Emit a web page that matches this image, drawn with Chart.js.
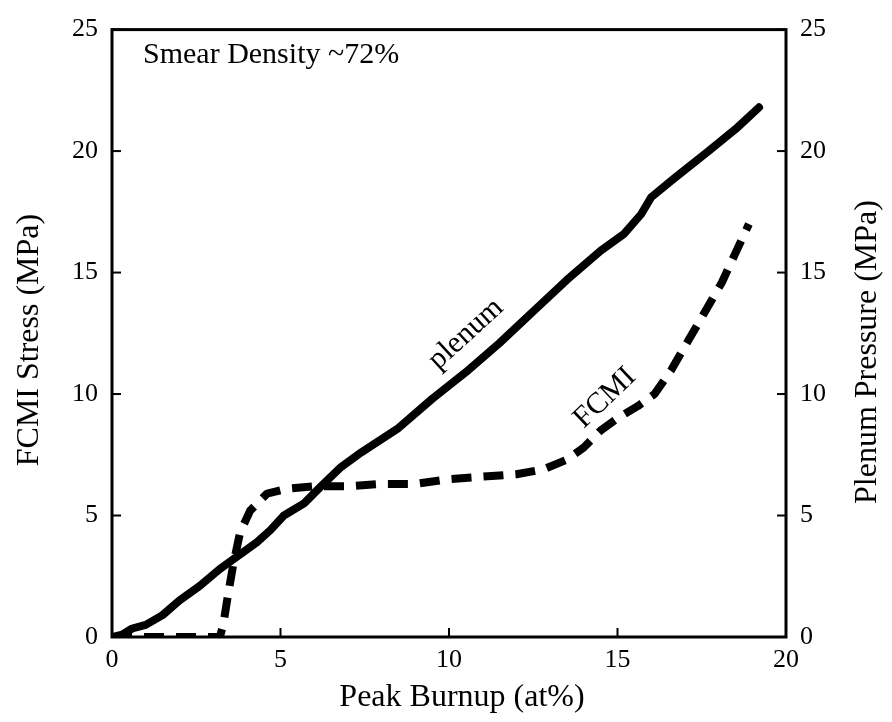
<!DOCTYPE html>
<html>
<head>
<meta charset="utf-8">
<script src="https://cdn.jsdelivr.net/npm/chart.js@4.4.1/dist/chart.umd.min.js"></script>
<style>
  html, body { margin: 0; padding: 0; background: #fff; }
  #wrap { width: 892px; height: 722px; }
</style>
</head>
<body>
<div id="wrap"><canvas id="myChart" width="892" height="722"></canvas></div>
<script>
// burnup (at%) vs plenum pressure (MPa)
var plenumX = [0, 0.3, 0.6, 1.0, 1.5, 2.0, 2.6, 3.2, 3.6, 3.9, 4.3, 4.7, 5.1, 5.7, 6.2, 6.8, 7.4, 8.5, 9.5, 10.5, 11.5, 12.5, 13.5, 14.5, 15.2, 15.7, 16.0, 16.7, 17.7, 18.5, 19.2];
var plenumY = [0, 0.1, 0.35, 0.5, 0.9, 1.5, 2.1, 2.8, 3.2, 3.5, 3.9, 4.4, 5.0, 5.5, 6.2, 7.0, 7.6, 8.6, 9.8, 10.9, 12.1, 13.4, 14.7, 15.9, 16.6, 17.4, 18.1, 18.9, 20.0, 20.9, 21.8];

// burnup (at%) vs FCMI stress (MPa)
var fcmiX = [0, 1, 2, 3.2, 3.3, 3.45, 3.6, 3.8, 4.1, 4.6, 5.2, 6, 7, 8, 9, 10, 11, 12, 12.8, 13.5, 14, 14.5, 15, 15.6, 16.1, 16.6, 17.1, 17.6, 18.1, 18.5, 18.9];
var fcmiY = [0, 0, 0, 0, 0.5, 1.8, 3.0, 4.3, 5.2, 5.9, 6.1, 6.2, 6.2, 6.3, 6.3, 6.5, 6.6, 6.7, 6.9, 7.3, 7.8, 8.5, 9.0, 9.5, 10.0, 11.0, 12.2, 13.4, 14.6, 15.8, 17.0];

var xTicks = [0, 5, 10, 15, 20];
var yTicks = [0, 5, 10, 15, 20, 25];

function pts(xs, ys) {
  var out = [];
  for (var i = 0; i < xs.length; i++) out.push({x: xs[i], y: ys[i]});
  return out;
}

var serif = "'Liberation Serif', 'Times New Roman', serif";
var ink = '#000';

// frame, inward ticks, axis titles and curve labels
var decor = {
  id: 'decor',
  afterDatasetsDraw: function(chart) {
    var c = chart.ctx, a = chart.chartArea;
    var sx = chart.scales.x, sy = chart.scales.y, sy2 = chart.scales.y2;
    c.save();
    c.strokeStyle = ink;
    c.lineWidth = 3;
    c.strokeRect(a.left, a.top, a.right - a.left, a.bottom - a.top);
    c.lineWidth = 2;
    xTicks.forEach(function(v) {
      var p = sx.getPixelForValue(v);
      c.beginPath(); c.moveTo(p, a.bottom); c.lineTo(p, a.bottom - 9); c.stroke();
    });
    yTicks.forEach(function(v) {
      var p = sy.getPixelForValue(v);
      c.beginPath(); c.moveTo(a.left, p); c.lineTo(a.left + 9, p); c.stroke();
      p = sy2.getPixelForValue(v);
      c.beginPath(); c.moveTo(a.right, p); c.lineTo(a.right - 9, p); c.stroke();
    });

    c.fillStyle = ink;
    c.font = '32px ' + serif;
    c.textAlign = 'center';
    c.textBaseline = 'middle';
    c.fillText('Peak Burnup (at%)', 462, 698);

    c.save();
    c.translate(30, 340);
    c.rotate(-Math.PI / 2);
    c.fillText('FCMI Stress (MPa)', 0, 0);
    c.restore();

    c.save();
    c.translate(868, 352);
    c.rotate(-Math.PI / 2);
    c.fillText('Plenum Pressure (MPa)', 0, 0);
    c.restore();

    c.font = '30px ' + serif;
    c.textAlign = 'left';
    c.textBaseline = 'alphabetic';
    c.fillText('Smear Density ~72%', a.left + 31, 63);

    c.textAlign = 'center';
    c.textBaseline = 'middle';
    c.save();
    c.translate(466, 334);
    c.rotate(-0.74);
    c.fillText('plenum', 0, 0);
    c.restore();

    c.save();
    c.translate(605, 398);
    c.rotate(-0.76);
    c.fillText('FCMI', 0, 0);
    c.restore();
    c.restore();
  }
};

var ctx = document.getElementById('myChart');
var myChart = new Chart(ctx, {
  type: 'line',
  data: {
    datasets: [{
      label: 'plenum',
      data: pts(plenumX, plenumY),
      yAxisID: 'y2',
      borderColor: ink,
      borderWidth: 8,
      borderCapStyle: 'round',
      borderJoinStyle: 'round',
      pointRadius: 0,
      tension: 0
    }, {
      label: 'FCMI',
      data: pts(fcmiX, fcmiY),
      yAxisID: 'y',
      borderColor: ink,
      borderWidth: 8,
      borderDash: [20, 12],
      borderCapStyle: 'butt',
      borderJoinStyle: 'round',
      pointRadius: 0,
      tension: 0
    }]
  },
  options: {
    responsive: false,
    animation: false,
    layout: { padding: { top: 22, left: 0, right: 0, bottom: 0 } },
    plugins: {
      legend: { display: false },
      tooltip: { enabled: false }
    },
    scales: {
      x: {
        type: 'linear', min: 0, max: 20,
        afterBuildTicks: function(s) { s.ticks = xTicks.map(function(v) { return {value: v}; }); },
        afterFit: function(s) { s.height = 85; },
        grid: { display: false, drawTicks: false },
        border: { display: false },
        ticks: { color: ink, font: { family: serif, size: 26 }, padding: 8, maxRotation: 0 }
      },
      y: {
        type: 'linear', position: 'left', min: 0, max: 25,
        afterBuildTicks: function(s) { s.ticks = yTicks.map(function(v) { return {value: v}; }); },
        afterFit: function(s) { s.width = 112; },
        grid: { display: false, drawTicks: false },
        border: { display: false },
        ticks: { color: ink, font: { family: serif, size: 26 }, padding: 14 }
      },
      y2: {
        type: 'linear', position: 'right', min: 0, max: 25,
        afterBuildTicks: function(s) { s.ticks = yTicks.map(function(v) { return {value: v}; }); },
        afterFit: function(s) { s.width = 106; },
        grid: { display: false, drawTicks: false },
        border: { display: false },
        ticks: { color: ink, font: { family: serif, size: 26 }, padding: 14 }
      }
    }
  },
  plugins: [decor]
});
</script>
</body>
</html>
